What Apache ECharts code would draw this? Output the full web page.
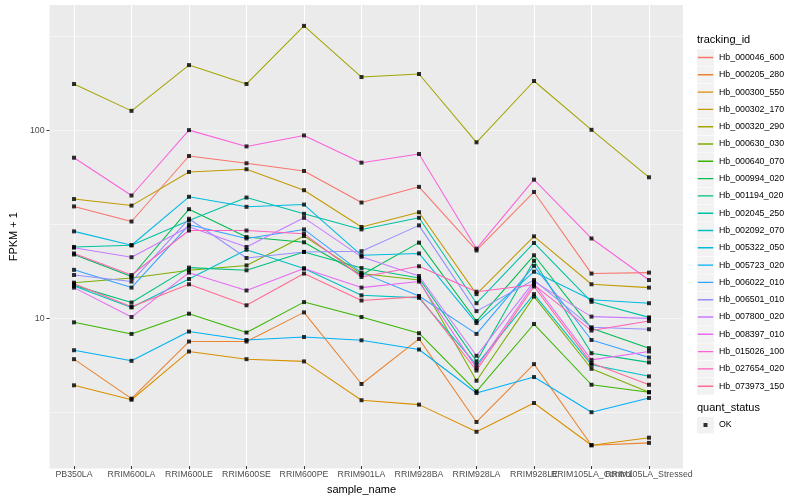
<!DOCTYPE html>
<html>
<head>
<meta charset="utf-8">
<script src="https://cdn.jsdelivr.net/npm/echarts/dist/echarts.min.js"></script>
<style>html,body{margin:0;padding:0;background:#fff}#chart{width:800px;height:500px}</style>
</head>
<body>
<div id="chart"></div>
<script>
const categories = ['PB350LA','RRIM600LA','RRIM600LE','RRIM600SE','RRIM600PE','RRIM901LA','RRIM928BA','RRIM928LA','RRIM928LE','RRIM105LA_Control','RRIM105LA_Stressed'];

const hb000046_600 = [38.9, 32.3, 72.4, 66.2, 60.2, 40.8, 49.5, 22.6, 46.5, 17.0, 17.2];
const hb000205_280 = [5.92, 3.64, 7.36, 7.36, 10.54, 4.36, 7.60, 2.73, 5.57, 2.05, 2.11];
const hb000300_550 = [4.29, 3.59, 6.51, 5.92, 5.76, 3.57, 3.38, 2.42, 3.45, 2.05, 2.25];
const hb000302_170 = [42.6, 39.3, 59.5, 61.5, 47.5, 30.2, 36.2, 13.2, 26.9, 14.9, 14.3];
const hb000320_290 = [175.9, 126.3, 222, 175.9, 360, 191.6, 198.9, 85.7, 182.5, 100, 55.7];
const hb000630_030 = [15.2, 16.1, 17.7, 18.8, 27.0, 17.0, 15.7, 4.54, 12.8, 5.26, 3.94];
const hb000640_070 = [9.32, 8.08, 10.37, 8.22, 11.96, 9.95, 8.15, 3.98, 9.13, 4.32, 3.94];
const hb000994_020 = [21.5, 16.4, 37.6, 26.7, 25.0, 16.7, 24.9, 9.47, 21.3, 8.66, 6.78];
const hb001194_020 = [14.7, 11.9, 18.3, 17.7, 22.2, 18.2, 16.1, 5.76, 19.9, 6.37, 5.69];
const hb002045_250 = [23.6, 24.1, 32.7, 43.4, 35.5, 29.3, 33.8, 11.8, 24.8, 12.0, 9.91];
const hb002092_070 = [14.6, 11.2, 15.9, 22.8, 18.1, 13.0, 12.6, 5.52, 13.2, 5.52, 4.79];
const hb005322_050 = [28.6, 24.1, 43.8, 38.7, 39.8, 21.3, 21.8, 9.24, 17.4, 12.3, 11.8];
const hb005723_020 = [6.61, 5.80, 8.32, 7.50, 7.78, 7.47, 6.67, 3.90, 4.75, 3.08, 3.67];
const hb006022_010 = [17.8, 14.3, 31.0, 26.2, 29.3, 17.2, 12.9, 8.08, 18.7, 7.50, 6.04];
const hb006501_010 = [16.7, 15.4, 33.4, 20.6, 22.2, 22.4, 30.8, 10.7, 15.7, 8.77, 8.56];
const hb007800_020 = [23.4, 20.8, 30.3, 23.6, 33.8, 20.9, 16.5, 6.17, 15.4, 10.0, 9.79];
const hb008397_010 = [14.3, 9.95, 17.2, 13.8, 18.1, 14.3, 15.4, 5.30, 15.0, 5.87, 6.51];
const hb015026_100 = [70.9, 44.5, 99.6, 81.5, 93.3, 66.7, 74.2, 23.1, 54.1, 26.2, 15.7];
const hb027654_020 = [21.8, 16.7, 28.9, 28.9, 27.8, 16.3, 18.6, 13.6, 14.8, 8.42, 9.47];
const hb073973_150 = [15.0, 11.3, 14.9, 11.5, 17.0, 12.2, 12.8, 5.15, 14.5, 5.64, 4.32];

const seriesNames = ['Hb_000046_600','Hb_000205_280','Hb_000300_550','Hb_000302_170','Hb_000320_290','Hb_000630_030','Hb_000640_070','Hb_000994_020','Hb_001194_020','Hb_002045_250','Hb_002092_070','Hb_005322_050','Hb_005723_020','Hb_006022_010','Hb_006501_010','Hb_007800_020','Hb_008397_010','Hb_015026_100','Hb_027654_020','Hb_073973_150'];
const seriesValues = [hb000046_600,hb000205_280,hb000300_550,hb000302_170,hb000320_290,hb000630_030,hb000640_070,hb000994_020,hb001194_020,hb002045_250,hb002092_070,hb005322_050,hb005723_020,hb006022_010,hb006501_010,hb007800_020,hb008397_010,hb015026_100,hb027654_020,hb073973_150];
const seriesColors = ['#F8766D','#EA8331','#D89000','#C09B00','#A3A500','#7CAE00','#39B600','#00BB4E','#00BF7D','#00C1A3','#00BFC4','#00BAE0','#00B0F6','#35A2FF','#9590FF','#C77CFF','#E76BF3','#FA62DB','#FF62BC','#FF6C91'];
const yTickValues = [10, 100];
const statusName = 'OK';

const yMin = Math.pow(10, 0.2);
const yMax = Math.pow(10, 2.668);
const FONT = 'Liberation Sans, Arial, Helvetica, sans-serif';

const lineIcon = 'path://M0,0L0.01,0L0.01,0.01L0,0.01Z M0.8,7.8L16.2,7.8L16.2,9.2L0.8,9.2Z M16.99,16.99L17,16.99L17,17L16.99,17Z';
const pointIcon = 'path://M0,0L0.01,0L0.01,0.01L0,0.01Z M6.5,6.5L10.5,6.5L10.5,10.5L6.5,10.5Z M16.99,16.99L17,16.99L17,17L16.99,17Z';

const series = seriesNames.map((name, k) => ({
  name: name,
  type: 'line',
  xAxisIndex: 0,
  yAxisIndex: 0,
  data: seriesValues[k],
  color: seriesColors[k],
  symbol: 'none',
  lineStyle: { width: 1.05, color: seriesColors[k] },
  emphasis: { disabled: true },
  silent: true,
  z: 2
}));

const points = [];
seriesValues.forEach(arr => arr.forEach((v, i) => points.push([i, v])));
series.push({
  name: statusName,
  type: 'scatter',
  xAxisIndex: 0,
  yAxisIndex: 0,
  data: points,
  symbol: 'rect',
  symbolSize: 4,
  itemStyle: { color: '#000' },
  color: '#000',
  silent: true,
  z: 5
});

const keyTop = 49, keyStep = 17.3;
const graphics = [];
for (let i = 0; i < seriesNames.length; i++) {
  graphics.push({ type: 'rect', left: 697, top: keyTop + i * keyStep + 0.25, shape: { width: 17, height: 16.8 }, style: { fill: '#F2F2F2' }, silent: true });
}
graphics.push({ type: 'rect', left: 697, top: 416.75, shape: { width: 17, height: 16.8 }, style: { fill: '#F2F2F2' }, silent: true });

const chart = echarts.init(document.getElementById('chart'), null, { renderer: 'canvas' });
chart.setOption({
  animation: false,
  textStyle: { fontFamily: FONT },
  title: [
    { text: 'tracking_id', left: 697, top: 34, padding: 0, textStyle: { fontSize: 11, fontWeight: 'normal', color: '#000', fontFamily: FONT } },
    { text: 'quant_status', left: 697, top: 402, padding: 0, textStyle: { fontSize: 11, fontWeight: 'normal', color: '#000', fontFamily: FONT } }
  ],
  grid: [
    { left: 74, right: 151, top: 5, bottom: 31.6, containLabel: false },
    { left: 40, right: 117, top: 5, bottom: 31.6, show: true, backgroundColor: '#EBEBEB', borderWidth: 0 }
  ],
  xAxis: [
    {
      type: 'category', gridIndex: 0, data: categories, boundaryGap: false,
      axisLine: { show: false },
      axisTick: { show: true, length: 3, interval: 0, lineStyle: { color: '#333', width: 1 } },
      axisLabel: { interval: 0, color: '#4D4D4D', fontSize: 8.8, margin: 4, fontFamily: FONT },
      splitLine: { show: true, interval: 0, lineStyle: { color: '#fff', width: 1.07 } },
      name: 'sample_name', nameLocation: 'middle', nameGap: 17,
      nameTextStyle: { fontSize: 11, color: '#000', fontFamily: FONT }
    },
    { type: 'value', gridIndex: 1, show: false, min: 0, max: 1 }
  ],
  yAxis: [
    { type: 'log', gridIndex: 0, min: yMin, max: yMax, show: false },
    {
      type: 'log', gridIndex: 1, min: yMin, max: yMax, logBase: 10,
      axisLine: { show: false },
      axisTick: { show: true, length: 3, lineStyle: { color: '#333', width: 1 }, customValues: yTickValues },
      axisLabel: { color: '#4D4D4D', fontSize: 8.8, margin: 5, customValues: yTickValues, fontFamily: FONT },
      splitLine: { show: true, showMinLine: false, showMaxLine: false, lineStyle: { color: '#fff', width: 1.07 } },
      name: 'FPKM + 1', nameLocation: 'middle', nameGap: 22,
      nameTextStyle: { fontSize: 11, color: '#000', fontFamily: FONT }
    },
    {
      type: 'log', gridIndex: 1, min: yMin, max: yMax, logBase: Math.sqrt(10), position: 'left',
      axisLine: { show: false }, axisTick: { show: false }, axisLabel: { show: false },
      splitLine: { show: true, showMinLine: false, showMaxLine: false, lineStyle: { color: '#fff', width: 0.53 } }
    }
  ],
  legend: [
    {
      data: seriesNames, orient: 'vertical', left: 697, top: keyTop, padding: 0,
      itemWidth: 17, itemHeight: 17, itemGap: keyStep - 17, icon: lineIcon,
      itemStyle: { borderWidth: 0 },
      textStyle: { fontSize: 8.8, color: '#000', fontFamily: FONT },
      selectedMode: false
    },
    {
      data: [statusName], orient: 'vertical', left: 697, top: 416.5, padding: 0,
      itemWidth: 17, itemHeight: 17, icon: pointIcon,
      itemStyle: { borderWidth: 0 },
      textStyle: { fontSize: 8.8, color: '#000', fontFamily: FONT },
      selectedMode: false
    }
  ],
  graphic: graphics,
  series: series
});
</script>
</body>
</html>
